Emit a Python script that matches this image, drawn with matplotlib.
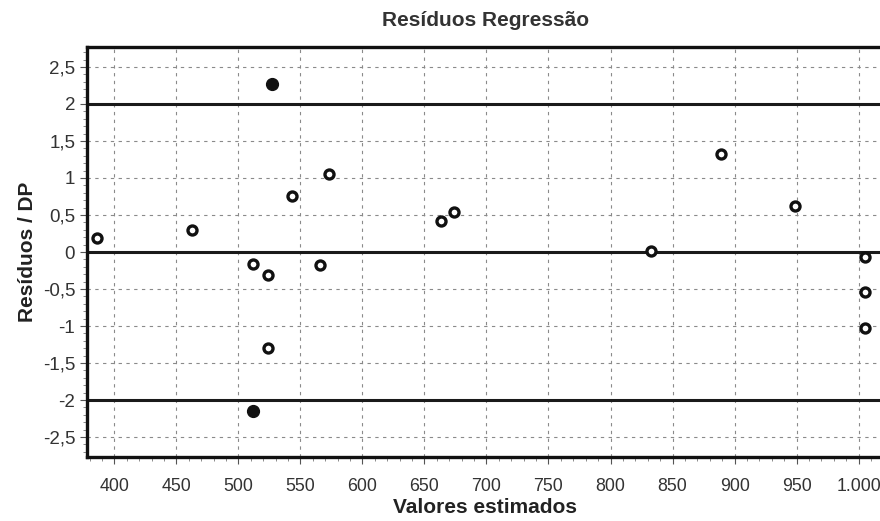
import numpy as np
import matplotlib
matplotlib.use("Agg")
import matplotlib.pyplot as plt
from matplotlib.ticker import MultipleLocator, FuncFormatter

plt.rcParams["font.family"] = ["Liberation Sans", "DejaVu Sans"]

# valores
valores_estimados = [386, 463, 527, 543, 573, 663, 674, 512, 524, 566, 524, 512,
                     833, 889, 949, 1005, 1005, 1005]
residuos_dp = [0.19, 0.30, 2.27, 0.76, 1.05, 0.42, 0.54, -0.16, -0.31, -0.18,
               -1.30, -2.15, 0.01, 1.32, 0.62, -0.07, -0.54, -1.03]
limites = [-2, 0, 2]

x = np.array(valores_estimados)
y = np.array(residuos_dp)
fora = np.abs(y) > 2

fig = plt.figure(figsize=(8.8, 5.21), dpi=100)
ax = fig.add_axes([0.0989, 0.1228, 0.905, 0.787])

ax.set_xlim(378, 1020)
ax.set_ylim(-2.77, 2.77)

ax.xaxis.set_major_locator(MultipleLocator(50))
ax.xaxis.set_minor_locator(MultipleLocator(10))
ax.yaxis.set_major_locator(MultipleLocator(0.5))
ax.yaxis.set_minor_locator(MultipleLocator(0.1))

def fmt_x(v, pos):
    return "1.000" if v == 1000 else f"{v:.0f}"

def fmt_y(v, pos):
    s = f"{v:g}".replace(".", ",")
    return "0" if s in ("-0", "0") else s

ax.xaxis.set_major_formatter(FuncFormatter(fmt_x))
ax.yaxis.set_major_formatter(FuncFormatter(fmt_y))

ax.grid(True, which="major", color="#8a8a8a", ls=(0, (3, 4)), lw=0.8)
for h in limites:
    ax.axhline(h, color="#1a1a1a", lw=2.2, zorder=2)

ax.plot(x[~fora], y[~fora], "o", ms=6.5, mfc="white", mec="#111111", mew=2.4, zorder=3)
ax.plot(x[fora], y[fora], "o", ms=8.5, mfc="#111111", mec="#111111", zorder=3)

for s in ["left", "bottom", "top"]:
    ax.spines[s].set_linewidth(2.4)
    ax.spines[s].set_color("#111111")
ax.spines["right"].set_visible(False)

ax.tick_params(axis="both", which="major", labelsize=13.5, labelcolor="#333333",
               length=5, width=0.8, color="#555555")
ax.tick_params(axis="x", which="major", labelsize=12.8, pad=10)
ax.tick_params(axis="both", which="minor", length=3, width=0.6, color="#777777")

ax.set_title("Resíduos Regressão", fontsize=15, fontweight="bold", color="#333333", pad=15)
ax.set_xlabel("Valores estimados", fontsize=15, fontweight="bold", color="#222222", labelpad=2)
ax.set_ylabel("Resíduos / DP", fontsize=15, fontweight="bold", color="#222222", labelpad=4)

fig.savefig("out.png", dpi=100)
